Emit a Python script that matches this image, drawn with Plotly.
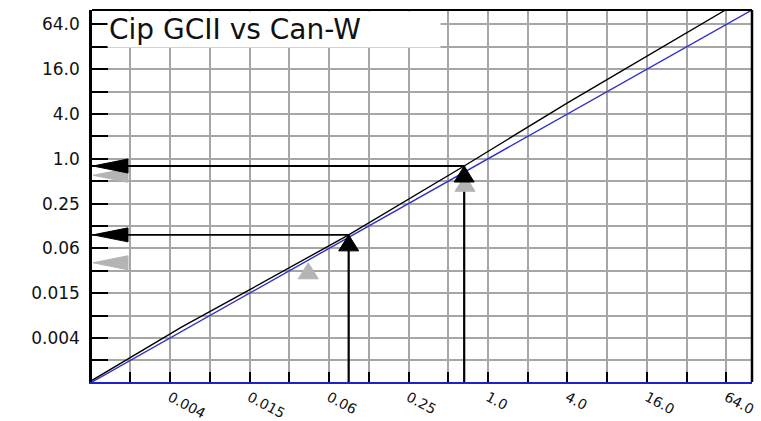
import plotly.graph_objects as go

# Log2 grid: one gridline per doubling, labels on every second one
tick_powers = list(range(-9, 7))
tick_vals = [2.0 ** p for p in tick_powers]
label_map = {-8: "0.004", -6: "0.015", -4: "0.06", -2: "0.25",
             0: "1.0", 2: "4.0", 4: "16.0", 6: "64.0"}
tick_text = [label_map.get(p, "") for p in tick_powers]

axis_min, axis_max = 0.001, 100

# Line of identity (Can-W = Cip GCII)
identity_x = [0.001, 100]
identity_y = [0.001, 100]

# Relationship Cip GCII vs Can-W
fit_x = [0.001, 0.0048, 0.0162, 0.088, 0.66, 4.0, 63]
fit_y = [0.00105, 0.0055, 0.018, 0.095, 0.8, 5.66, 100]

# Read-offs through the relationship line (black arrows)
read_x = [0.088, 0.66]
read_y = [0.095, 0.8]

# Read-offs through the identity line (grey arrows)
ref_x = [0.0435, 0.67]
ref_y = [0.04, 0.6]

BLACK = "#000000"
BLUE = "#2f2fc8"
GREY = "#b4b4b4"
FONT = "DejaVu Sans"

fig = go.Figure()

fig.add_trace(go.Scatter(x=identity_x, y=identity_y, mode="lines",
                         line=dict(color=BLUE, width=1.4), hoverinfo="skip"))
fig.add_trace(go.Scatter(x=fit_x, y=fit_y, mode="lines",
                         line=dict(color=BLACK, width=1.4), hoverinfo="skip"))

# Arrow shafts for the black read-offs
for xv, yv in zip(read_x, read_y):
    fig.add_trace(go.Scatter(x=[axis_min, xv], y=[yv, yv], mode="lines",
                             line=dict(color=BLACK, width=1.8), hoverinfo="skip"))
    fig.add_trace(go.Scatter(x=[xv, xv], y=[axis_min, yv], mode="lines",
                             line=dict(color=BLACK, width=2.2), hoverinfo="skip"))

shapes = []


def head_left(yv, color):
    return dict(type="path", xref="paper", yref="y", xsizemode="pixel",
                ysizemode="pixel", xanchor=0, yanchor=yv,
                path="M 1 0 L 36 7 L 36 -7 Z", fillcolor=color,
                line=dict(color=color, width=1), layer="above")


def head_up(xv, yv, color):
    return dict(type="path", xref="x", yref="y", xsizemode="pixel",
                ysizemode="pixel", xanchor=xv, yanchor=yv,
                path="M 0 0 L 10 -16 L -10 -16 Z", fillcolor=color,
                line=dict(color=color, width=1), layer="above")


for xv, yv in zip(ref_x, ref_y):
    shapes.append(head_left(yv, GREY))
    shapes.append(head_up(xv, yv, GREY))
for xv, yv in zip(read_x, read_y):
    shapes.append(head_left(yv, BLACK))
    shapes.append(head_up(xv, yv, BLACK))

# Frame: top and right in black (left is the y axis, bottom the blue x axis)
shapes += [
    dict(type="line", xref="paper", yref="paper", x0=0, x1=1, y0=1, y1=1,
         line=dict(color=BLACK, width=2), layer="above"),
    dict(type="line", xref="paper", yref="paper", x0=1, x1=1, y0=0, y1=1,
         line=dict(color=BLACK, width=2.5), layer="above"),
]

axis_common = dict(type="log", tickmode="array", tickvals=tick_vals,
                   ticktext=tick_text, showgrid=True, gridcolor="#a6a6a6",
                   gridwidth=1.5, zeroline=False, ticks="inside",
                   tickcolor=BLACK, tickwidth=2, automargin=False)

fig.update_xaxes(**axis_common, range=[-3, 2], ticklen=10, tickangle=28,
                 tickfont=dict(family=FONT, size=14, color="#111111"),
                 showline=True, linecolor="#2020d0", linewidth=2)
fig.update_yaxes(**axis_common, range=[-3, 2], ticklen=16,
                 ticklabelstandoff=6,
                 tickfont=dict(family=FONT, size=17, color="#111111"),
                 showline=True, linecolor=BLACK, linewidth=2.5)

fig.add_annotation(text="Cip GCII vs Can-W", xref="paper", yref="paper",
                   x=0.022, y=0.997, xanchor="left", yanchor="top",
                   width=330, align="left", showarrow=False,
                   bgcolor="white", borderpad=1,
                   font=dict(family=FONT, size=28, color="#111111"))

fig.update_layout(width=761, height=421, showlegend=False,
                  margin=dict(l=92, r=9, t=10, b=39),
                  paper_bgcolor="white", plot_bgcolor="white",
                  shapes=shapes)

fig.write_html("out.html")
